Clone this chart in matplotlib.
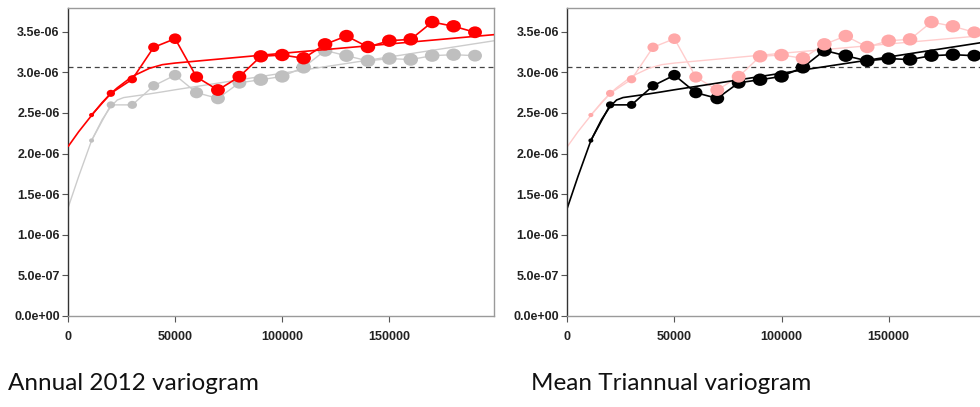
import numpy as np
import matplotlib
matplotlib.use("Agg")
from matplotlib import pyplot as plt
from matplotlib.path import Path
from matplotlib.transforms import Affine2D

# empirical semivariance per lag class
lags = [11000, 20000, 30000, 40000, 50000, 60000, 70000, 80000, 90000, 100000,
        110000, 120000, 130000, 140000, 150000, 160000, 170000, 180000, 190000]
annual_2012 = [2.475, 2.742, 2.915, 3.309, 3.415, 2.943, 2.783, 2.947, 3.198, 3.214,
               3.174, 3.346, 3.448, 3.313, 3.390, 3.407, 3.620, 3.568, 3.494]
triannual = [2.161, 2.600, 2.600, 2.835, 2.966, 2.750, 2.680, 2.872, 2.910, 2.950,
             3.062, 3.270, 3.205, 3.142, 3.170, 3.158, 3.206, 3.218, 3.206]

# fitted models, sampled along distance
fit_h = [0, 5000, 11000, 16000, 20000, 23000, 26000, 30000, 38000, 44000,
         50000, 100000, 150000, 199000]
fit_annual = [2.085, 2.270, 2.470, 2.630, 2.740, 2.810, 2.870, 2.950, 3.050, 3.095,
              3.115, 3.235, 3.350, 3.465]
fit_triannual = [1.330, 1.720, 2.160, 2.420, 2.580, 2.660, 2.690, 2.705, 2.735, 2.760,
                 2.786, 2.990, 3.190, 3.390]

sill = 3.066
scale = 1e-6

y_ticks = [0, 0.5, 1.0, 1.5, 2.0, 2.5, 3.0, 3.5]
y_ticklabels = ["0.0e+00", "5.0e-07", "1.0e-06", "1.5e-06", "2.0e-06",
                "2.5e-06", "3.0e-06", "3.5e-06"]
x_ticks = [0, 50000, 100000, 150000]
x_ticklabels = ["0", "50000", "100000", "150000"]

captions = ["Annual 2012 variogram", "Mean Triannual variogram"]

# point widths in points (grow with the number of pairs)
pt_size = [3.6, 6.0, 6.8, 8.0, 9.0, 9.5, 10, 10, 10.5, 10.5,
           10.5, 10.5, 10.5, 10.5, 10.5, 10.5, 10.5, 10.5, 10]

# slightly flattened disc, like the stretched R output
circ = Path.unit_circle()
ell = Path(Affine2D().scale(1.0, 0.85).transform(circ.vertices), circ.codes)

annual = np.array(annual_2012) * scale
tri = np.array(triannual) * scale
fa = np.array(fit_annual) * scale
ft = np.array(fit_triannual) * scale
sizes = np.array(pt_size) ** 2

fig = plt.figure(figsize=(9.8, 4.07), dpi=100)
ax1 = fig.add_axes([68 / 980, 91 / 407, 426.3 / 980, 308 / 407])
ax2 = fig.add_axes([567.3 / 980, 91 / 407, 426.3 / 980, 308 / 407])

red = (1, 0, 0)
grey_pt = (0.75, 0.75, 0.75)
grey_line = (0.8, 0.8, 0.8)
pink_pt = (1, 0.66, 0.66)
pink_line = (1, 0.8, 0.8)


def draw_series(ax, y, fit, col, lcol, lw, zl, zp):
    ax.plot(fit_h, fit, color=lcol, lw=lw, zorder=zl, solid_capstyle="butt")
    ax.plot(lags, y, color=lcol, lw=lw, zorder=zl)
    ax.scatter(lags, y, s=sizes, marker=ell, color=col, linewidths=0, zorder=zp)


draw_series(ax1, tri, ft, grey_pt, grey_line, 1.0, 2, 2.5)
draw_series(ax1, annual, fa, red, red, 1.2, 3, 3.5)

draw_series(ax2, annual, fa, pink_pt, pink_line, 1.0, 1.5, 4)
draw_series(ax2, tri, ft, "black", "black", 1.2, 2, 3)

for ax in (ax1, ax2):
    ax.axhline(sill * scale, color="#444444", lw=0.9, ls=(0, (4, 3)), zorder=1)
    ax.set_xlim(0, 199000)
    ax.set_ylim(0, 3.793e-6)
    ax.set_yticks(np.array(y_ticks) * scale)
    ax.set_yticklabels(y_ticklabels)
    ax.set_xticks(x_ticks)
    ax.set_xticklabels(x_ticklabels)
    ax.tick_params(axis="both", direction="out", length=4, width=0.8,
                   colors="#555555", labelcolor="#222222", labelsize=9)
    ax.tick_params(axis="y", pad=2)
    ax.tick_params(axis="x", pad=7)
    for lab in ax.get_xticklabels() + ax.get_yticklabels():
        lab.set_fontfamily("Liberation Sans")
        lab.set_fontweight("bold")
    for side in ("top", "right", "bottom"):
        ax.spines[side].set_color("#9a9a9a")
        ax.spines[side].set_linewidth(1.0)
    ax.spines["left"].set_color("#333333")
    ax.spines["left"].set_linewidth(1.0)

fig.text(8 / 980, 17 / 407, captions[0], family="Lato", fontsize=17.5, color="#111111")
fig.text(531 / 980, 17 / 407, captions[1], family="Lato", fontsize=17.5, color="#111111")

fig.savefig("out.png", dpi=100)
